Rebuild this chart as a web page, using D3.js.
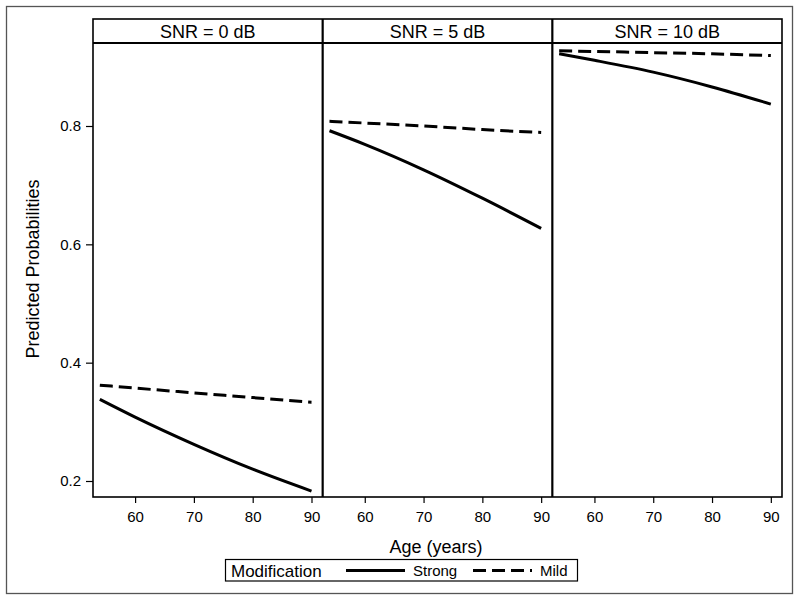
<!DOCTYPE html>
<html>
<head>
<meta charset="utf-8">
<script src="https://cdn.jsdelivr.net/npm/d3@7"></script>
<style>
  html, body { margin: 0; padding: 0; background: #fff; }
  svg { display: block; font-family: "Liberation Sans", Arial, sans-serif; }
</style>
</head>
<body>
<svg id="chart" width="800" height="601"></svg>
<script>
// ---- Data ----
const ages = [54, 60, 70, 80, 90];
const panelLabels = ["SNR = 0 dB", "SNR = 5 dB", "SNR = 10 dB"];
const strongValues = [
  [0.338, 0.308, 0.262, 0.220, 0.183],
  [0.792, 0.769, 0.726, 0.678, 0.627],
  [0.922, 0.911, 0.891, 0.866, 0.837]
];
const mildValues = [
  [0.362, 0.357, 0.349, 0.341, 0.333],
  [0.808, 0.805, 0.800, 0.794, 0.789],
  [0.927, 0.926, 0.924, 0.922, 0.919]
];
const xTicks = [60, 70, 80, 90];
const yTicks = [0.2, 0.4, 0.6, 0.8];
const seriesNames = ["Strong", "Mild"];
const legendTitle = "Modification";
const xTitle = "Age (years)";
const yTitle = "Predicted Probabilities";

// ---- Layout ----
const svg = d3.select("#chart");
const pLeft = 93, pRight = 782, pTop = 19, headerBottom = 43, pBottom = 497;
const nP = panelLabels.length;
const pw = (pRight - pLeft) / nP;

// outer border
svg.append("rect").attr("x", 6.5).attr("y", 6.5).attr("width", 786).attr("height", 587)
  .attr("fill", "none").attr("stroke", "#555").attr("stroke-width", 1.3);

const y = d3.scaleLinear().domain([0.2, 0.8]).range([481, 126]);

// y axis
const yAxis = d3.axisLeft(y).tickValues(yTicks).tickFormat(d3.format(".1f")).tickSize(7).tickPadding(5);
const gy = svg.append("g").attr("transform", `translate(${pLeft},0)`).call(yAxis);
gy.select(".domain").remove();
gy.selectAll("text").attr("font-size", 15).attr("fill", "#000").attr("font-family", "Liberation Sans, Arial, sans-serif");
gy.selectAll("line").attr("stroke", "#000").attr("stroke-width", 1.2);

const line = (xs) => d3.line().x((d, i) => xs(ages[i])).y(d => y(d)).curve(d3.curveMonotoneX);

panelLabels.forEach((lab, p) => {
  const x0 = pLeft + p * pw, x1 = x0 + pw;
  const x = d3.scaleLinear().domain([52.84, 91.9]).range([x0, x1]);
  const g = svg.append("g");

  // x axis
  const xAxis = d3.axisBottom(x).tickValues(xTicks).tickSize(6).tickPadding(8);
  const gx = g.append("g").attr("transform", `translate(0,${pBottom})`).call(xAxis);
  gx.select(".domain").remove();
  gx.selectAll("text").attr("font-size", 15).attr("fill", "#000").attr("font-family", "Liberation Sans, Arial, sans-serif");
  gx.selectAll("line").attr("stroke", "#000").attr("stroke-width", 1.2);

  // header
  g.append("text").attr("x", (x0 + x1) / 2).attr("y", 37.5).attr("text-anchor", "middle")
    .attr("font-size", 18).attr("fill", "#000").text(lab);

  // series
  g.append("path").datum(strongValues[p]).attr("d", line(x))
    .attr("fill", "none").attr("stroke", "#000").attr("stroke-width", 3);
  g.append("path").datum(mildValues[p]).attr("d", line(x))
    .attr("fill", "none").attr("stroke", "#000").attr("stroke-width", 3)
    .attr("stroke-dasharray", "13,6");
});

// frame lines
const frame = svg.append("g").attr("stroke", "#000").attr("fill", "none");
frame.append("rect").attr("x", pLeft).attr("y", pTop).attr("width", pRight - pLeft).attr("height", pBottom - pTop)
  .attr("stroke-width", 1.6);
frame.append("line").attr("x1", pLeft).attr("x2", pRight).attr("y1", headerBottom).attr("y2", headerBottom)
  .attr("stroke-width", 2);
for (let p = 1; p < nP; p++) {
  const xx = pLeft + p * pw;
  frame.append("line").attr("x1", xx).attr("x2", xx).attr("y1", pTop).attr("y2", pBottom).attr("stroke-width", 2.2);
}

// axis titles
svg.append("text").attr("x", 436).attr("y", 553).attr("text-anchor", "middle")
  .attr("font-size", 18).attr("fill", "#000").text(xTitle);
svg.append("text").attr("transform", "translate(39,269) rotate(-90)").attr("text-anchor", "middle")
  .attr("font-size", 18).attr("fill", "#000").text(yTitle);

// legend
const lg = svg.append("g");
lg.append("rect").attr("x", 225.5).attr("y", 559.5).attr("width", 352).attr("height", 21.5)
  .attr("fill", "none").attr("stroke", "#000").attr("stroke-width", 1.2);
lg.append("text").attr("x", 231).attr("y", 576.5).attr("font-size", 17).attr("fill", "#000").text(legendTitle);
const legendItems = [
  { name: seriesNames[0], x: 346, dash: null },
  { name: seriesNames[1], x: 473, dash: "13,6" }
];
legendItems.forEach(it => {
  lg.append("line").attr("x1", it.x).attr("x2", it.x + 59).attr("y1", 570.5).attr("y2", 570.5)
    .attr("stroke", "#000").attr("stroke-width", 3).attr("stroke-dasharray", it.dash);
  lg.append("text").attr("x", it.x + 67).attr("y", 576).attr("font-size", 15).attr("fill", "#000").text(it.name);
});
</script>
</body>
</html>
